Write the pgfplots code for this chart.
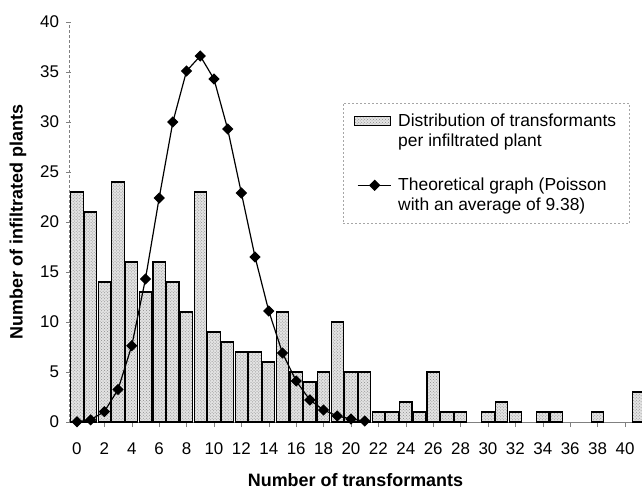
\documentclass[border=0pt]{standalone}
\usepackage{pgfplots}
\pgfplotsset{compat=1.18}
\usepackage{fontspec}
\setmainfont{Liberation Sans}
\usetikzlibrary{patterns}

\pgfplotsset{
    barlegend/.style={legend image code/.code={
        \draw[##1] (0bp,5.5bp) rectangle (36bp,14.5bp);}},
    linelegend/.style={legend image code/.code={
        \draw[mark repeat=2, mark phase=2, ##1]
        plot coordinates {(3bp,10bp) (20bp,10bp) (36bp,10bp)};}},
}

% transformants per infiltrated plant
\pgfplotstableread{
n count
0 23
1 21
2 14
3 24
4 16
5 13
6 16
7 14
8 11
9 23
10 9
11 8
12 7
13 7
14 6
15 11
16 5
17 4
18 5
19 10
20 5
21 5
22 1
23 1
24 2
25 1
26 5
27 1
28 1
30 1
31 2
32 1
34 1
35 1
38 1
41 3
}\observed

% Poisson curve, mean 9.38
\pgfplotstableread{
n value
0 0.02
1 0.22
2 1.04
3 3.25
4 7.63
5 14.3
6 22.4
7 30.0
8 35.1
9 36.6
10 34.3
11 29.3
12 22.9
13 16.5
14 11.1
15 6.9
16 4.1
17 2.2
18 1.2
19 0.6
20 0.3
21 0.1
}\poisson

\begin{document}
\begin{tikzpicture}
\begin{axis}[
    at={(0,0)}, anchor=south west,
    scale only axis,
    width=573bp, height=400bp,
    xmin=-0.58, xmax=41.24,
    ymin=0, ymax=40,
    clip=true,
    axis lines=left,
    axis line style={-},
    x axis line style={gray},
    y axis line style={gray, densely dashed},
    xtick={0,2,...,40},
    ytick={0,5,...,40},
    tick style={gray, thin},
    xtick align=outside,
    ytick align=center,
    major tick length=5bp,
    /pgf/number format/assume math mode=true,
    ticklabel style={font=\fontsize{17}{19}\selectfont},
    xticklabel style={yshift=-12bp},
    yticklabel style={xshift=-4bp},
    xlabel={Number of transformants},
    ylabel={Number of infiltrated plants},
    xlabel style={font=\bfseries\fontsize{18}{20}\selectfont,
        at={(axis description cs:0.5,0)}, anchor=center, yshift=-58bp},
    ylabel style={font=\bfseries\fontsize{18}{20}\selectfont,
        at={(axis description cs:0,0.5)}, anchor=center, yshift=51bp},
    legend cell align=left,
    legend style={
        at={(0.478,0.7975)}, anchor=north west,
        draw=gray!70, dash pattern=on 2pt off 2pt,
        font=\fontsize{17.5}{20}\selectfont,
        cells={align=left},
        inner xsep=11bp, inner ysep=9bp,
        row sep=26bp, column sep=5bp,
    },
]
\addplot[ybar, bar width=0.9, draw=black, line width=1.1pt, solid,
    fill=gray!22, postaction={pattern=crosshatch dots, pattern color=gray!90},
    barlegend]
    table[x=n, y=count] {\observed};
\addlegendentry{Distribution of transformants\\per infiltrated plant}

\addplot[black, line width=1.2pt, solid, mark=square*,
    mark size=3.4pt, mark options={rotate=45, solid},
    linelegend]
    table[x=n, y=value] {\poisson};
\addlegendentry{Theoretical graph (Poisson\\with an average of 9.38)}
\end{axis}
\pgfresetboundingbox
\path[use as bounding box] (-69bp,-68bp) rectangle (573bp,422bp);
\end{tikzpicture}
\end{document}
